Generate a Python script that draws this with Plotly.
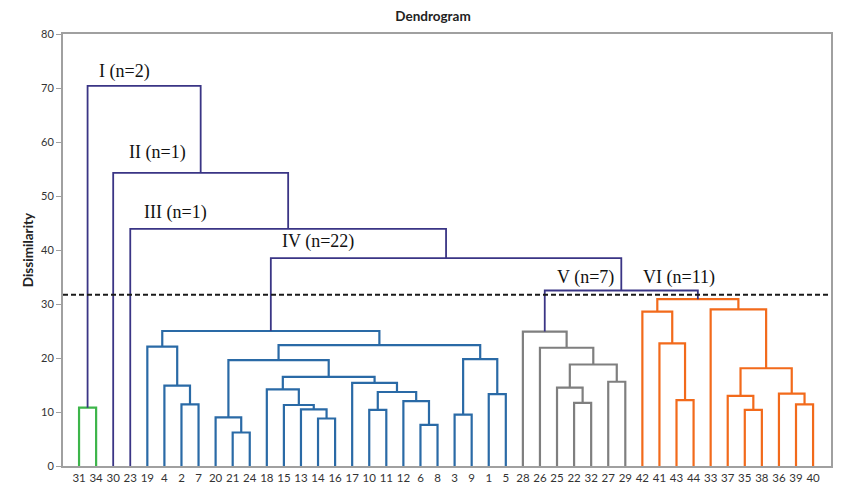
import plotly.graph_objects as go

# Leaf order along the x axis
leaves = ["31", "34", "30", "23", "19", "4", "2", "7", "20", "21", "24", "18", "15", "13",
          "14", "16", "17", "10", "11", "12", "6", "8", "3", "9", "1", "5", "28", "26",
          "25", "22", "32", "27", "29", "42", "41", "43", "44", "33", "37", "35", "38",
          "36", "39", "40"]

# Merges: cluster cK is created by merge K (children are leaf labels or earlier clusters)
merge_left = ["31",
              "2", "4", "19", "21", "20", "14", "13", "15", "18", "10", "6", "12", "c10",
              "17", "c9", "c5", "3", "1", "c17", "c16", "c3",
              "22", "25", "27", "c23", "26", "28",
              "43", "41", "42", "35", "37", "39", "36", "c32", "33", "c30",
              "c27", "c21", "23", "30", "c0"]
merge_right = ["34",
               "7", "c1", "c2", "24", "c4", "16", "c6", "c7", "c8", "11", "8", "c11", "c12",
               "c13", "c14", "c15", "9", "5", "c18", "c19", "c20",
               "32", "c22", "29", "c24", "c25", "c26",
               "44", "c28", "c29", "38", "c31", "40", "c33", "c34", "c35", "c36",
               "c37", "c38", "c39", "c40", "c41"]
merge_height = [10.8,
                11.4, 14.9, 22.1, 6.2, 9.0, 8.8, 10.5, 11.3, 14.2, 10.4, 7.6, 12.0, 13.7,
                15.4, 16.5, 19.6, 9.5, 13.3, 19.8, 22.4, 25.0,
                11.7, 14.5, 15.6, 18.8, 21.9, 24.9,
                12.2, 22.7, 28.6, 10.4, 13.0, 11.4, 13.4, 18.1, 29.0, 30.9,
                32.5, 38.5, 43.9, 54.3, 70.4]
merge_group = ["green"] + ["blue"] * 21 + ["grey"] * 6 + ["orange"] * 10 + ["navy"] * 5

group_colors = {"green": "#3DB54A", "blue": "#2A6AA6", "grey": "#7F7F7F",
                "orange": "#F26A1B", "navy": "#3A3585"}

cut_height = 31.7

cluster_labels = ["I (n=2)", "II (n=1)", "III (n=1)", "IV (n=22)", "V (n=7)", "VI (n=11)"]
label_x = [1.05, 2.8, 3.7, 11.8, 27.9, 32.9]
label_y = [73.0, 58.0, 46.9, 41.5, 35.0, 35.0]

# Compute node positions
pos = {lab: (float(i), 0.0) for i, lab in enumerate(leaves)}
segments = {g: ([], []) for g in group_colors}
for k, (a, b, h, g) in enumerate(zip(merge_left, merge_right, merge_height, merge_group)):
    xa, ya = pos[a]
    xb, yb = pos[b]
    xs, ys = segments[g]
    xs += [xa, xa, xb, xb, None]
    ys += [ya, h, h, yb, None]
    pos["c%d" % k] = ((xa + xb) / 2.0, h)

fig = go.Figure()
for g, (xs, ys) in segments.items():
    fig.add_trace(go.Scatter(x=xs, y=ys, mode="lines",
                             line=dict(color=group_colors[g], width=2.2 if g != "navy" else 1.8),
                             hoverinfo="skip", showlegend=False))

fig.add_shape(type="line", xref="paper", yref="y", x0=0, x1=1, y0=cut_height, y1=cut_height,
              line=dict(color="#1a1a1a", width=2, dash="5px,3px"))

for t, x, y in zip(cluster_labels, label_x, label_y):
    fig.add_annotation(x=x, y=y, text=t, showarrow=False, xanchor="left", yanchor="middle",
                       font=dict(family="Liberation Serif", size=18, color="#111111"))

fig.update_layout(
    width=850, height=497,
    margin=dict(l=55, r=27, t=26, b=39),
    plot_bgcolor="white", paper_bgcolor="white",
    title=dict(text="<b>Dendrogram</b>", x=0.5, xref="container", xanchor="center",
               y=1.0, yref="container", yanchor="top", pad=dict(t=4, b=0, l=0, r=0),
               font=dict(family="Lato", size=13.5, color="#222222")),
    font=dict(family="Lato", size=11, color="#333333"),
)
fig.update_xaxes(range=[-0.94, 44.05], tickmode="array", tickvals=list(range(len(leaves))),
                 ticktext=leaves, ticks="", showgrid=False, zeroline=False,
                 showline=True, linecolor="#A0A0A0", linewidth=2, mirror=True,
                 tickfont=dict(family="Lato", size=11.5, color="#333333"))
fig.update_yaxes(range=[0, 80], dtick=10, ticks="outside", ticklen=5, tickcolor="#A0A0A0",
                 tickwidth=1, showgrid=False, zeroline=False,
                 showline=True, linecolor="#A0A0A0", linewidth=2, mirror=True,
                 title=dict(text="<b>Dissimilarity</b>", standoff=4,
                            font=dict(family="Lato", size=13.5, color="#222222")),
                 tickfont=dict(family="Lato", size=11, color="#333333"))

fig.write_html("out.html")
